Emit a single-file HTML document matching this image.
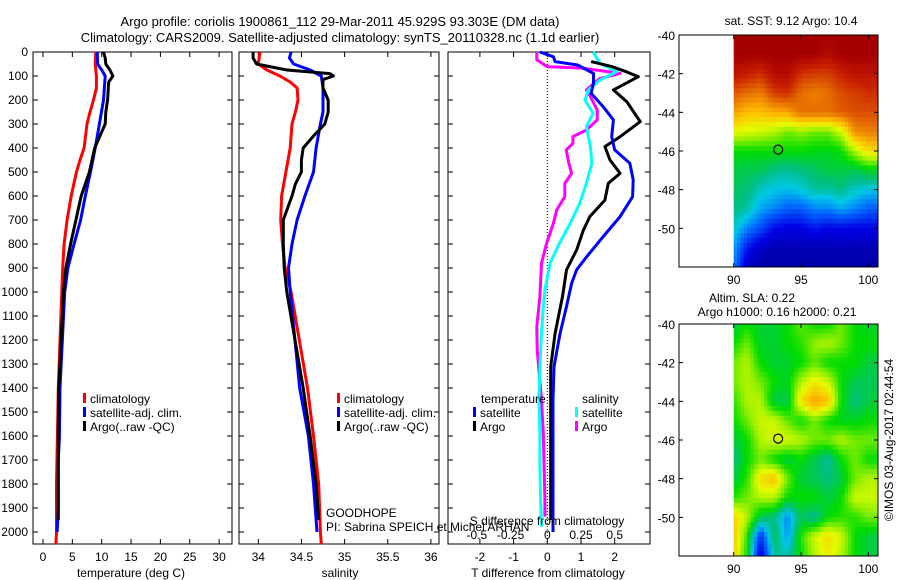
<!DOCTYPE html>
<html><head><meta charset="utf-8"><style>
html,body{margin:0;padding:0;background:#fff;}
svg{display:block;font-family:"Liberation Sans",sans-serif;}
text{font-size:12px;fill:#000;}
</style></head><body>
<svg id="fig" width="900" height="580" viewBox="0 0 900 580" xmlns="http://www.w3.org/2000/svg">
<text x="340" y="26" text-anchor="middle" style="font-size:13px">Argo profile: coriolis 1900861_112 29-Mar-2011 45.929S 93.303E (DM data)</text>
<text x="340" y="42" text-anchor="middle" style="font-size:13px">Climatology: CARS2009. Satellite-adjusted climatology: synTS_20110328.nc (1.1d earlier)</text>
<g id="g"></g>
</svg>
<script>
// ---------- data ----------
const tDepthRed=[0,50,100,150,200,250,300,400,450,500,600,700,800,900,1000,1400,1800,2000,2050];
const tRed=[9.0,8.9,9.1,9.1,8.6,8.0,7.5,7.0,6.3,5.7,4.8,4.1,3.6,3.35,3.2,2.6,2.3,2.3,2.2];
const tDepthBlue=[0,50,75,100,200,300,400,500,600,700,800,900,1000,1400,1600,1700,1900,2000];
const tBlue=[9.25,9.3,10.0,10.6,10.3,9.6,8.9,8.1,7.2,6.4,5.3,4.25,3.7,2.9,2.8,2.6,2.6,2.4];
const tDepthArgo=[0,25,50,75,100,125,200,250,300,350,400,500,550,600,700,800,900,1000,1400,1600,1950];
const tArgo=[10.3,10.6,10.7,11.4,11.9,11.2,11.0,10.7,10.6,9.7,8.8,7.9,7.2,6.5,5.6,4.7,3.9,3.5,2.7,2.6,2.6];

const sDepthRed=[0,50,75,100,125,150,200,250,300,400,500,600,700,800,900,1000,1400,1600,1800,2000,2050];
const sRed=[34.02,34.0,34.1,34.25,34.37,34.45,34.46,34.43,34.39,34.37,34.32,34.27,34.26,34.28,34.31,34.38,34.57,34.64,34.70,34.72,34.73];
const sDepthBlue=[0,25,50,75,100,150,250,300,400,500,600,700,800,900,1000,1400,1600,1800,2000];
const sBlue=[34.38,34.36,34.41,34.6,34.73,34.75,34.75,34.72,34.67,34.64,34.54,34.45,34.39,34.35,34.37,34.48,34.58,34.64,34.68];
const sDepthArgo=[0,25,50,75,90,100,115,150,200,250,300,350,400,450,500,550,600,700,800,900,1000,1400,1600,1800,1900,1950];
const sArgo=[33.94,33.94,33.98,34.33,34.83,34.87,34.75,34.75,34.81,34.81,34.77,34.64,34.52,34.50,34.50,34.43,34.39,34.29,34.29,34.30,34.33,34.52,34.60,34.67,34.69,34.70];

const dtDepthSat=[0,20,40,54,89,130,172,228,283,353,408,464,533,603,686,769,853,908,964,1061,1172,1311,1450,2000];
const dtSat=[-0.22,0.18,0.23,0.9,1.37,1.37,1.3,1.66,1.96,1.91,2.0,2.45,2.55,2.53,2.16,1.66,1.17,0.87,0.72,0.57,0.38,0.2,0.17,0.17];
const dtDepthArgo=[40,60,80,103,158,207,270,290,353,394,450,506,547,617,686,742,825,908,1019,1033,1172,1311,1950];
const dtArgo=[1.3,1.9,2.3,2.7,1.96,2.36,2.66,2.76,2.16,1.71,1.86,2.16,1.81,1.71,1.26,1.07,0.87,0.57,0.45,0.43,0.23,0.1,0.1];
const dsDepthSat=[0,47,82,117,158,200,256,311,394,464,547,631,714,797,881,992,1061,1172,1311,1450,1589,1728,1867,1978];
const dsSat=[0.34,0.39,0.515,0.39,0.305,0.28,0.34,0.29,0.32,0.33,0.29,0.24,0.17,0.09,0.02,-0.018,-0.03,-0.043,-0.055,-0.062,-0.055,-0.055,-0.05,-0.043];
const dsDepthArgo=[0,33,61,68,89,110,158,186,242,283,325,353,381,408,464,506,547,603,658,714,797,881,1019,1144,1242,1450,1589,1867,1936];
const dsArgo=[-0.078,-0.078,0.0,0.27,0.54,0.39,0.29,0.32,0.37,0.37,0.29,0.19,0.19,0.14,0.16,0.18,0.13,0.13,0.07,0.045,-0.005,-0.043,-0.055,-0.078,-0.075,-0.043,-0.03,-0.018,-0.018];

const tTicks=[0,5,10,15,20,25,30];
const sTicks=[34,34.5,35,35.5,36];
const dTicks=[-2,-1,0,1,2];
const dsTickLabels=["-0.5","-0.25","0","0.25","0.5"];
const dsTickVals=[-0.5,-0.25,0,0.25,0.5];
const depthTicks=[0,100,200,300,400,500,600,700,800,900,1000,1100,1200,1300,1400,1500,1600,1700,1800,1900,2000];
const latTicks=[-40,-42,-44,-46,-48,-50];
const lonTicks=[90,95,100];

// SST grid (colour index 0..1), rows lat -40..-52 (13 node rows), cols lon 90..101
const sstGrid=[
[1,1,1,1,1,1,1,1,1,1,1,1],
[1,1,1,1,1,1,1,.97,1,1,1,1],
[.95,.93,.9,.97,.97,.9,.88,.88,.92,.95,.95,.95],
[.85,.82,.8,.88,.9,.82,.8,.82,.86,.88,.9,.9],
[.76,.72,.72,.74,.75,.82,.82,.82,.84,.86,.86,.86],
[.64,.63,.62,.6,.56,.58,.56,.56,.62,.78,.8,.8],
[.5,.5,.5,.5,.5,.5,.49,.48,.5,.6,.68,.68],
[.46,.45,.45,.42,.41,.42,.44,.46,.46,.45,.48,.48],
[.44,.43,.38,.36,.35,.37,.4,.4,.42,.38,.36,.36],
[.42,.4,.33,.3,.26,.26,.3,.3,.33,.3,.26,.26],
[.38,.3,.24,.16,.14,.14,.18,.15,.16,.15,.15,.15],
[.33,.18,.1,.08,.08,.08,.08,.08,.08,.08,.08,.08],
[.3,.1,.06,.06,.06,.06,.06,.06,.06,.06,.06,.06]];
const slaGrid=[
[.46,.5,.47,.47,.5,.55,.5,.5,.56,.5,.47,.47],
[.5,.56,.47,.47,.5,.52,.58,.6,.56,.5,.5,.5],
[.56,.6,.5,.47,.47,.5,.55,.5,.5,.5,.46,.46],
[.56,.6,.56,.5,.48,.6,.66,.62,.5,.45,.45,.45],
[.52,.6,.6,.46,.45,.68,.76,.72,.5,.42,.46,.46],
[.5,.56,.62,.62,.55,.5,.56,.5,.48,.48,.5,.5],
[.46,.5,.6,.63,.63,.6,.56,.56,.6,.56,.56,.56],
[.42,.5,.56,.5,.46,.5,.45,.4,.5,.56,.5,.5],
[.46,.52,.68,.72,.56,.46,.45,.42,.46,.56,.6,.6],
[.52,.56,.6,.6,.5,.5,.5,.46,.5,.62,.62,.62],
[.7,.6,.45,.42,.3,.45,.4,.5,.52,.52,.56,.56],
[.72,.52,.2,.45,.32,.52,.62,.68,.62,.5,.46,.46],
[.7,.5,.12,.4,.4,.5,.6,.66,.6,.5,.46,.46]];

// ---------- helpers ----------
const NS="http://www.w3.org/2000/svg";
const G=document.getElementById('g');
function el(tag,attrs,parent){const e=document.createElementNS(NS,tag);for(const k in attrs)e.setAttribute(k,attrs[k]);(parent||G).appendChild(e);return e;}
function txt(x,y,s,anchor,parent){const t=el('text',{x:x,y:y,'text-anchor':anchor||'start'},parent);t.textContent=s;return t;}
const yD=d=>52+d*0.24;
const xT=v=>43+v*5.87;
const xS=v=>258.3+(v-34)*86.3;
const xDT=v=>547.3+v*33.7;
const xDS=v=>547.3+v*4*33.7;
function stepPath(depths,vals,fx){let p='';for(let i=0;i<depths.length;i++){const x=fx(vals[i]),y=yD(depths[i]);p+=(i===0?'M':' L')+x.toFixed(1)+' '+y.toFixed(1);}return p;}
function series(depths,vals,fx,color,name){const p=el('path',{d:stepPath(depths,vals,fx),fill:'none',stroke:color,'stroke-width':3,'stroke-linejoin':'round'});

}
function frame(x0,x1,name){const r=el('rect',{x:x0,y:52,width:x1-x0,height:492,fill:'none',stroke:'#000','stroke-width':1});


for(const d of depthTicks){el('line',{x1:x0,x2:x0+5,y1:yD(d),y2:yD(d),stroke:'#000'});el('line',{x1:x1,x2:x1-5,y1:yD(d),y2:yD(d),stroke:'#000'});}}
function xticks(vals,fx,labels,name){vals.forEach((v,i)=>{const x=fx(v);el('line',{x1:x,x2:x,y1:52,y2:57,stroke:'#000'});el('line',{x1:x,x2:x,y1:544,y2:539,stroke:'#000'});const t=txt(x,561,labels?labels[i]:String(v),'middle');

});}
function legendItem(x,y,color,label,name){el('rect',{x:x,y:y-10,width:3,height:10,fill:color});const t=txt(x+7,y,label);

}

// ---------- panel 1 ----------
frame(33,232,'temperature-panel');
depthTicks.forEach(d=>{const t=txt(28,yD(d)+4,String(d),'end');

});
xticks(tTicks,xT,null,'temperature-tick-label');
let a=txt(131,577,'temperature (deg C)','middle');
series(tDepthRed,tRed,xT,'#f00','temp-climatology-line');
series(tDepthBlue,tBlue,xT,'#00f','temp-satellite-line');
series(tDepthArgo,tArgo,xT,'#000','temp-argo-line');
legendItem(83,403,'#f00','climatology','legend-climatology');
legendItem(83,417,'#00f','satellite-adj. clim.','legend-satellite');
legendItem(83,431,'#000','Argo(..raw -QC)','legend-argo');

// ---------- panel 2 ----------
frame(239,439,'salinity-panel');
xticks(sTicks,xS,null,'salinity-tick-label');
a=txt(340,577,'salinity','middle');
series(sDepthRed,sRed,xS,'#f00','sal-climatology-line');
series(sDepthBlue,sBlue,xS,'#00f','sal-satellite-line');
series(sDepthArgo,sArgo,xS,'#000','sal-argo-line');
legendItem(337,403,'#f00','climatology','legend-climatology-2');
legendItem(337,417,'#00f','satellite-adj. clim.','legend-satellite-2');
legendItem(337,431,'#000','Argo(..raw -QC)','legend-argo-2');
a=txt(326,517,'GOODHOPE');
a=txt(326,531,'PI: Sabrina SPEICH et Michel ARHAN');

// ---------- panel 3 ----------
frame(448,650,'difference-panel');
el('line',{x1:xDT(0),x2:xDT(0),y1:52,y2:544,stroke:'#000','stroke-dasharray':'1,2'});
xticks(dTicks,xDT,null,'tdiff-tick-label');
series(dsDepthArgo,dsArgo,xDS,'#f0f','sdiff-argo-line');
series(dsDepthSat,dsSat,xDS,'#0ff','sdiff-satellite-line');
series(dtDepthArgo,dtArgo,xDT,'#000','tdiff-argo-line');
series(dtDepthSat,dtSat,xDT,'#00f','tdiff-satellite-line');
dsTickVals.forEach((v,i)=>{const t=txt(xDS(v)+(v<0?-3:0),539,dsTickLabels[i],'middle');

});
a=txt(547,525,'S difference from climatology','middle');
a=txt(548,577,'T difference from climatology','middle');
a=txt(481,403,'temperature');
a=txt(582,403,'salinity');
legendItem(473,417,'#00f','satellite','legend-t-satellite');
legendItem(473,431,'#000','Argo','legend-t-argo');
legendItem(575,417,'#0ff','satellite','legend-s-satellite');
legendItem(575,431,'#f0f','Argo','legend-s-argo');

// ---------- maps ----------
const cmapStops=[[0,[0,0,128]],[0.15,[0,0,230]],[0.28,[0,110,255]],[0.36,[0,200,230]],[0.42,[0,190,130]],[0.5,[0,220,0]],[0.58,[150,240,0]],[0.64,[230,250,0]],[0.72,[255,190,0]],[0.82,[230,110,0]],[0.92,[200,30,0]],[1,[165,0,0]]];
function cmap(v){v=Math.max(0,Math.min(1,v));for(let i=1;i<cmapStops.length;i++){const [a0,c0]=cmapStops[i-1],[a1,c1]=cmapStops[i];if(v<=a1){const f=(v-a0)/(a1-a0);return 'rgb('+c0.map((c,k)=>Math.round(c+(c1[k]-c)*f)).join(',')+')';}}return 'rgb(165,0,0)';}
function sample(grid,r,c){const r0=Math.min(Math.floor(r),grid.length-2),c0=Math.min(Math.floor(c),grid[0].length-2);const fr=r-r0,fc=c-c0;
return grid[r0][c0]*(1-fr)*(1-fc)+grid[r0][c0+1]*(1-fr)*fc+grid[r0+1][c0]*fr*(1-fc)+grid[r0+1][c0+1]*fr*fc;}
function map(top,grid,name,cellName){
  const bot=top+232, x0=679, x1=878;
  const xL=lon=>733.7+(lon-90)*13.46;
  const yL=lat=>top+(-40-lat)*(232/12);
  const gr=el('g',{});
  const step=0.25;
  for(let lat=-40;lat>-52;lat-=step){for(let lon=90;lon<100.8;lon+=step){
    const v=sample(grid,(-40-lat)+step/2,(lon-90)+step/2);
    const xa=xL(lon),xb=Math.min(xL(lon+step),x1),ya=yL(lat),yb=yL(lat-step);
    if(xa>=x1)continue;
    const c=el('rect',{x:xa.toFixed(1),y:ya.toFixed(1),width:(xb-xa+0.4).toFixed(1),height:(yb-ya+0.4).toFixed(1),fill:cmap(v)},gr);
    
    }}
  el('rect',{x:x0,y:top,width:x1-x0,height:232,fill:'none',stroke:'#000'});
  latTicks.forEach(l=>{const y=yL(l);el('line',{x1:x0,x2:x0+4,y1:y,y2:y,stroke:'#000'});el('line',{x1:x1,x2:x1-4,y1:y,y2:y,stroke:'#000'});const t=txt(675,y+5,String(l),'end');
    
    });
  lonTicks.forEach(l=>{const x=xL(l);el('line',{x1:x,x2:x,y1:bot,y2:bot-4,stroke:'#000'});el('line',{x1:x,x2:x,y1:top,y2:top+4,stroke:'#000'});const t=txt(x,bot+17,String(l),'middle');
    
    });
  const c=el('circle',{cx:xL(93.303),cy:yL(-45.929),r:4.5,fill:'none',stroke:'#000','stroke-width':1.2});
  
  
}
map(35,sstGrid,'sst-map','sst-cell');
map(324,slaGrid,'sla-map','sla-cell');
a=txt(791,25,'sat. SST: 9.12 Argo: 10.4','middle');
a=txt(752,302,'Altim. SLA: 0.22','middle');
a=txt(777,316,'Argo h1000: 0.16 h2000: 0.21','middle');
a=txt(0,0,'©IMOS 03-Aug-2017 02:44:54','middle');a.setAttribute('transform','translate(893,440) rotate(-90)');
</script>
</body></html>
